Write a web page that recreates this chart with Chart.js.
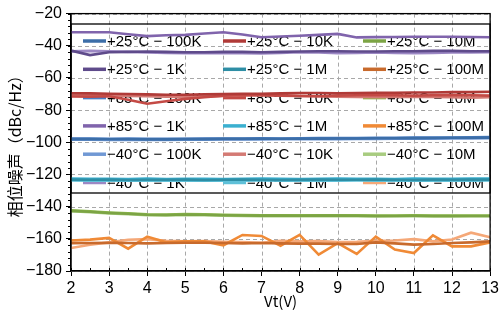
<!DOCTYPE html>
<html><head><meta charset="utf-8">
<script src="https://cdn.jsdelivr.net/npm/chart.js@4"></script>
<style>html,body{margin:0;padding:0;background:#fff}#wrap{width:502px;height:322px}</style>
</head><body><div id="wrap"><canvas id="c" width="502" height="322"></canvas></div>
<script>
const vt = [2,2.5,3,3.5,4,4.5,5,5.5,6,6.5,7,7.5,8,8.5,9,9.5,10,10.5,11,11.5,12,12.5,13];
const xTicks = [2,3,4,5,6,7,8,9,10,11,12,13];
const yTicks = [-180,-160,-140,-120,-100,-80,-60,-40,-20];

const labels = [
  '+25°C − 100K','+25°C − 10K','+25°C − 10M',
  '+25°C − 1K','+25°C − 1M','+25°C − 100M',
  '+85°C − 100K','+85°C − 10K','+85°C − 10M',
  '+85°C − 1K','+85°C − 1M','+85°C − 100M',
  '−40°C − 100K','−40°C − 10K','−40°C − 10M',
  '−40°C − 1K','−40°C − 1M','−40°C − 100M'
];
const colors = [
  '#3c6ea8','#b03a37','#7ca444','#5f4b8b','#2e8ea5','#c86a2c',
  '#4a7ec4','#c44a45','#8fbb4f','#8064ac','#3bb0d0','#f08a36',
  '#7098d4','#d47a74','#a8cc80','#9c88c4','#5fc0d8','#f5a878'
];

const p25_100K = [-98.0,-98.0,-98.1,-98.1,-98.2,-98.2,-98.0,-98.0,-97.9,-97.9,-97.8,-97.8,-97.8,-97.7,-97.6,-97.6,-97.5,-97.5,-97.4,-97.3,-97.2,-97.2,-97.1];
const p25_10K  = [-69.5,-69.6,-69.8,-70.0,-70.2,-70.4,-70.4,-70.2,-70.0,-69.8,-69.8,-69.6,-69.4,-69.4,-69.6,-69.4,-69.2,-69.2,-69.0,-69.0,-68.8,-68.8,-68.6];
const p25_10M  = [-142.6,-143.2,-143.9,-144.4,-145.0,-145.2,-144.9,-145.0,-145.3,-145.5,-145.6,-145.6,-145.7,-145.6,-145.6,-145.7,-145.8,-145.8,-145.7,-145.8,-145.8,-145.8,-145.8];
const p25_1K   = [-43.0,-45.8,-44.0,-43.8,-43.6,-43.8,-44.0,-44.0,-43.8,-43.8,-44.0,-43.8,-43.6,-43.4,-43.4,-43.6,-43.6,-43.4,-43.4,-43.2,-43.2,-43.4,-43.4];
const p25_1M   = [-123.2,-123.3,-123.2,-123.4,-123.3,-123.3,-123.2,-123.4,-123.3,-123.2,-123.3,-123.4,-123.3,-123.2,-123.3,-123.3,-123.2,-123.3,-123.4,-123.2,-123.3,-123.2,-123.2];
const p25_100M = [-162.7,-162.6,-162.4,-162.6,-162.8,-162.6,-162.4,-162.4,-162.6,-162.8,-162.6,-162.8,-163.0,-163.0,-163.2,-163.2,-162.2,-162.8,-163.6,-163.2,-162.6,-162.2,-161.6];

const p85_100K = [-97.6,-97.7,-97.8,-97.7,-97.8,-97.9,-97.8,-97.7,-97.6,-97.6,-97.5,-97.6,-97.5,-97.4,-97.4,-97.3,-97.2,-97.2,-97.1,-97.0,-97.0,-96.9,-96.8];
const p85_10K  = [-71.5,-71.6,-71.4,-73.5,-76.0,-74.5,-73.0,-72.0,-71.0,-70.6,-70.8,-71.0,-71.2,-71.4,-71.0,-70.8,-70.6,-70.8,-71.0,-70.8,-70.6,-70.8,-71.0];
const p85_10M  = [-142.3,-142.9,-143.6,-144.1,-144.7,-144.9,-144.6,-144.8,-145.0,-145.2,-145.3,-145.3,-145.4,-145.4,-145.3,-145.4,-145.5,-145.5,-145.4,-145.5,-145.5,-145.5,-145.5];
const p85_1K   = [-31.6,-31.6,-31.6,-32.8,-34.0,-33.5,-33.2,-32.4,-31.6,-33.0,-34.7,-34.2,-33.8,-33.2,-32.6,-34.8,-34.6,-34.5,-34.4,-34.4,-34.4,-34.5,-34.7];
const p85_1M   = [-122.6,-122.7,-122.7,-122.8,-122.6,-122.8,-122.7,-122.7,-122.8,-122.7,-122.6,-122.7,-122.8,-122.7,-122.6,-122.7,-122.7,-122.8,-122.6,-122.7,-122.7,-122.6,-122.6];
const p85_100M = [-161.0,-160.5,-159.4,-166.1,-158.6,-162.2,-161.6,-161.6,-164.0,-157.6,-158.2,-164.3,-157.6,-169.8,-162.7,-169.4,-158.6,-166.7,-168.8,-157.8,-164.7,-164.7,-162.2];

const m40_100K = [-98.4,-98.4,-98.5,-98.5,-98.6,-98.5,-98.4,-98.4,-98.3,-98.2,-98.2,-98.1,-98.1,-98.0,-98.0,-97.9,-97.9,-97.8,-97.8,-97.7,-97.6,-97.6,-97.5];
const m40_10K  = [-70.5,-70.8,-71.0,-71.2,-71.4,-71.6,-71.8,-71.6,-71.2,-70.8,-70.6,-70.8,-71.2,-71.4,-71.6,-71.8,-72.0,-71.8,-71.6,-71.8,-72.0,-72.2,-72.0];
const m40_10M  = [-142.9,-143.5,-144.2,-144.7,-145.3,-145.5,-145.2,-145.3,-145.6,-145.8,-145.9,-145.9,-146.0,-145.9,-145.9,-146.0,-146.1,-146.0,-146.0,-146.1,-146.1,-146.0,-146.0];
const m40_1K   = [-43.5,-43.2,-43.4,-43.8,-44.2,-44.4,-44.6,-44.6,-44.4,-44.6,-44.8,-44.4,-44.0,-44.2,-44.6,-44.4,-44.2,-44.4,-44.6,-44.4,-44.2,-44.2,-44.0];
const m40_1M   = [-123.7,-123.8,-123.8,-123.7,-123.9,-123.8,-123.8,-123.7,-123.9,-123.8,-123.7,-123.8,-123.8,-123.9,-123.8,-123.7,-123.8,-123.8,-123.9,-123.7,-123.8,-123.8,-123.7];
const m40_100M = [-165.7,-163.7,-162.2,-160.6,-160.2,-161.2,-161.6,-161.4,-161.8,-162.0,-162.4,-161.2,-161.6,-161.4,-162.0,-161.8,-161.2,-161.0,-160.2,-161.6,-160.4,-156.2,-159.0];

const series = [
  p25_100K,p25_10K,p25_10M,p25_1K,p25_1M,p25_100M,
  p85_100K,p85_10K,p85_10M,p85_1K,p85_1M,p85_100M,
  m40_100K,m40_10K,m40_10M,m40_1K,m40_1M,m40_100M
];

const datasets = series.map((s,i)=>({
  label: labels[i],
  data: vt.map((x,j)=>({x:x, y:s[j]})),
  borderColor: colors[i],
  backgroundColor: colors[i],
  borderWidth: 2.6,
  pointRadius: 0,
  tension: 0,
  fill: false
}));

const framePlugin = {
  id: 'frame',
  beforeDatasetsDraw(chart) {
    const {ctx, chartArea: a, scales: {x, y}} = chart;
    ctx.save();
    ctx.strokeStyle = '#a8a8a8';
    ctx.lineWidth = 1;
    ctx.setLineDash([4,3]);
    xTicks.forEach(v => {
      const px = Math.round(x.getPixelForValue(v)) + 0.5;
      ctx.beginPath(); ctx.moveTo(px, a.top); ctx.lineTo(px, a.bottom); ctx.stroke();
    });
    yTicks.forEach(v => {
      const py = Math.round(y.getPixelForValue(v)) + 0.5;
      ctx.beginPath(); ctx.moveTo(a.left, py); ctx.lineTo(a.right, py); ctx.stroke();
    });
    ctx.setLineDash([]);
    // legend box
    const top = 24, bottom = 193;
    ctx.strokeStyle = '#000';
    ctx.lineWidth = 1.3;
    ctx.strokeRect(a.left, top, a.right - a.left, bottom - top);
    const colX = [83, 223, 363];
    ctx.font = '15px "Liberation Sans", Arial, sans-serif';
    ctx.textBaseline = 'middle';
    ctx.textAlign = 'left';
    chart.data.datasets.forEach((d, i) => {
      const r = Math.floor(i / 3), c = i % 3;
      const cy = 41 + r * 28.3;
      ctx.strokeStyle = d.borderColor;
      ctx.lineWidth = 3.5;
      ctx.beginPath(); ctx.moveTo(colX[c], cy); ctx.lineTo(colX[c] + 23, cy); ctx.stroke();
      ctx.fillStyle = '#000';
      ctx.fillText(d.label, colX[c] + 24, cy + 1);
    });
    ctx.restore();
  },
  afterDraw(chart) {
    const {ctx, chartArea: a, scales: {x, y}} = chart;
    ctx.save();
    ctx.strokeStyle = '#000';
    ctx.lineWidth = 1.3;
    ctx.strokeRect(a.left, a.top, a.right - a.left, a.bottom - a.top);
    ctx.lineWidth = 1;
    vt.forEach(v => {
      const px = Math.round(x.getPixelForValue(v)) + 0.5;
      ctx.beginPath(); ctx.moveTo(px, a.bottom); ctx.lineTo(px, a.bottom - 3); ctx.stroke();
    });
    for (let v = -180; v <= -20; v += 4) {
      const py = Math.round(y.getPixelForValue(v)) + 0.5;
      ctx.beginPath(); ctx.moveTo(a.left, py); ctx.lineTo(a.left - 3, py); ctx.stroke();
    }
    ctx.restore();
  }
};

new Chart(document.getElementById('c'), {
  type: 'line',
  data: { datasets },
  plugins: [framePlugin],
  options: {
    responsive: false,
    animation: false,
    layout: { padding: { top: 9, right: 9, left: 0, bottom: 0 } },
    plugins: { legend: { display: false }, tooltip: { enabled: false } },
    scales: {
      x: {
        type: 'linear', min: 2, max: 13,
        afterFit(s) { s.height = 51; },
        afterBuildTicks(s) { s.ticks = xTicks.map(v => ({value: v})); },
        ticks: { font: { size: 16, family: '"Liberation Sans", Arial, sans-serif' }, color: '#000', padding: 3, maxRotation: 0 },
        grid: { display: true, drawOnChartArea: false, drawTicks: true, tickLength: 5, color: '#000' },
        border: { display: true, color: '#000', width: 1.3 },
        title: { display: true, text: 'Vt(V)', color: '#000',
          font: { size: 15, family: '"Noto Sans CJK SC", sans-serif' }, padding: { top: 0, bottom: 12 } }
      },
      y: {
        type: 'linear', min: -180, max: -20,
        afterFit(s) { s.width = 71; },
        afterBuildTicks(s) { s.ticks = yTicks.map(v => ({value: v})); },
        ticks: { font: { size: 16, family: '"Liberation Sans", Arial, sans-serif' }, color: '#000', padding: 4,
          callback: v => String(v).replace('-', '−') },
        grid: { display: true, drawOnChartArea: false, drawTicks: true, tickLength: 5, color: '#000' },
        border: { display: true, color: '#000', width: 1.3 },
        title: { display: true, text: '相位噪声（dBc/Hz）', color: '#000',
          font: { size: 16, family: '"Noto Sans CJK SC", sans-serif' }, padding: { top: 5, bottom: 0 } }
      }
    }
  }
});
</script>
</body></html>
